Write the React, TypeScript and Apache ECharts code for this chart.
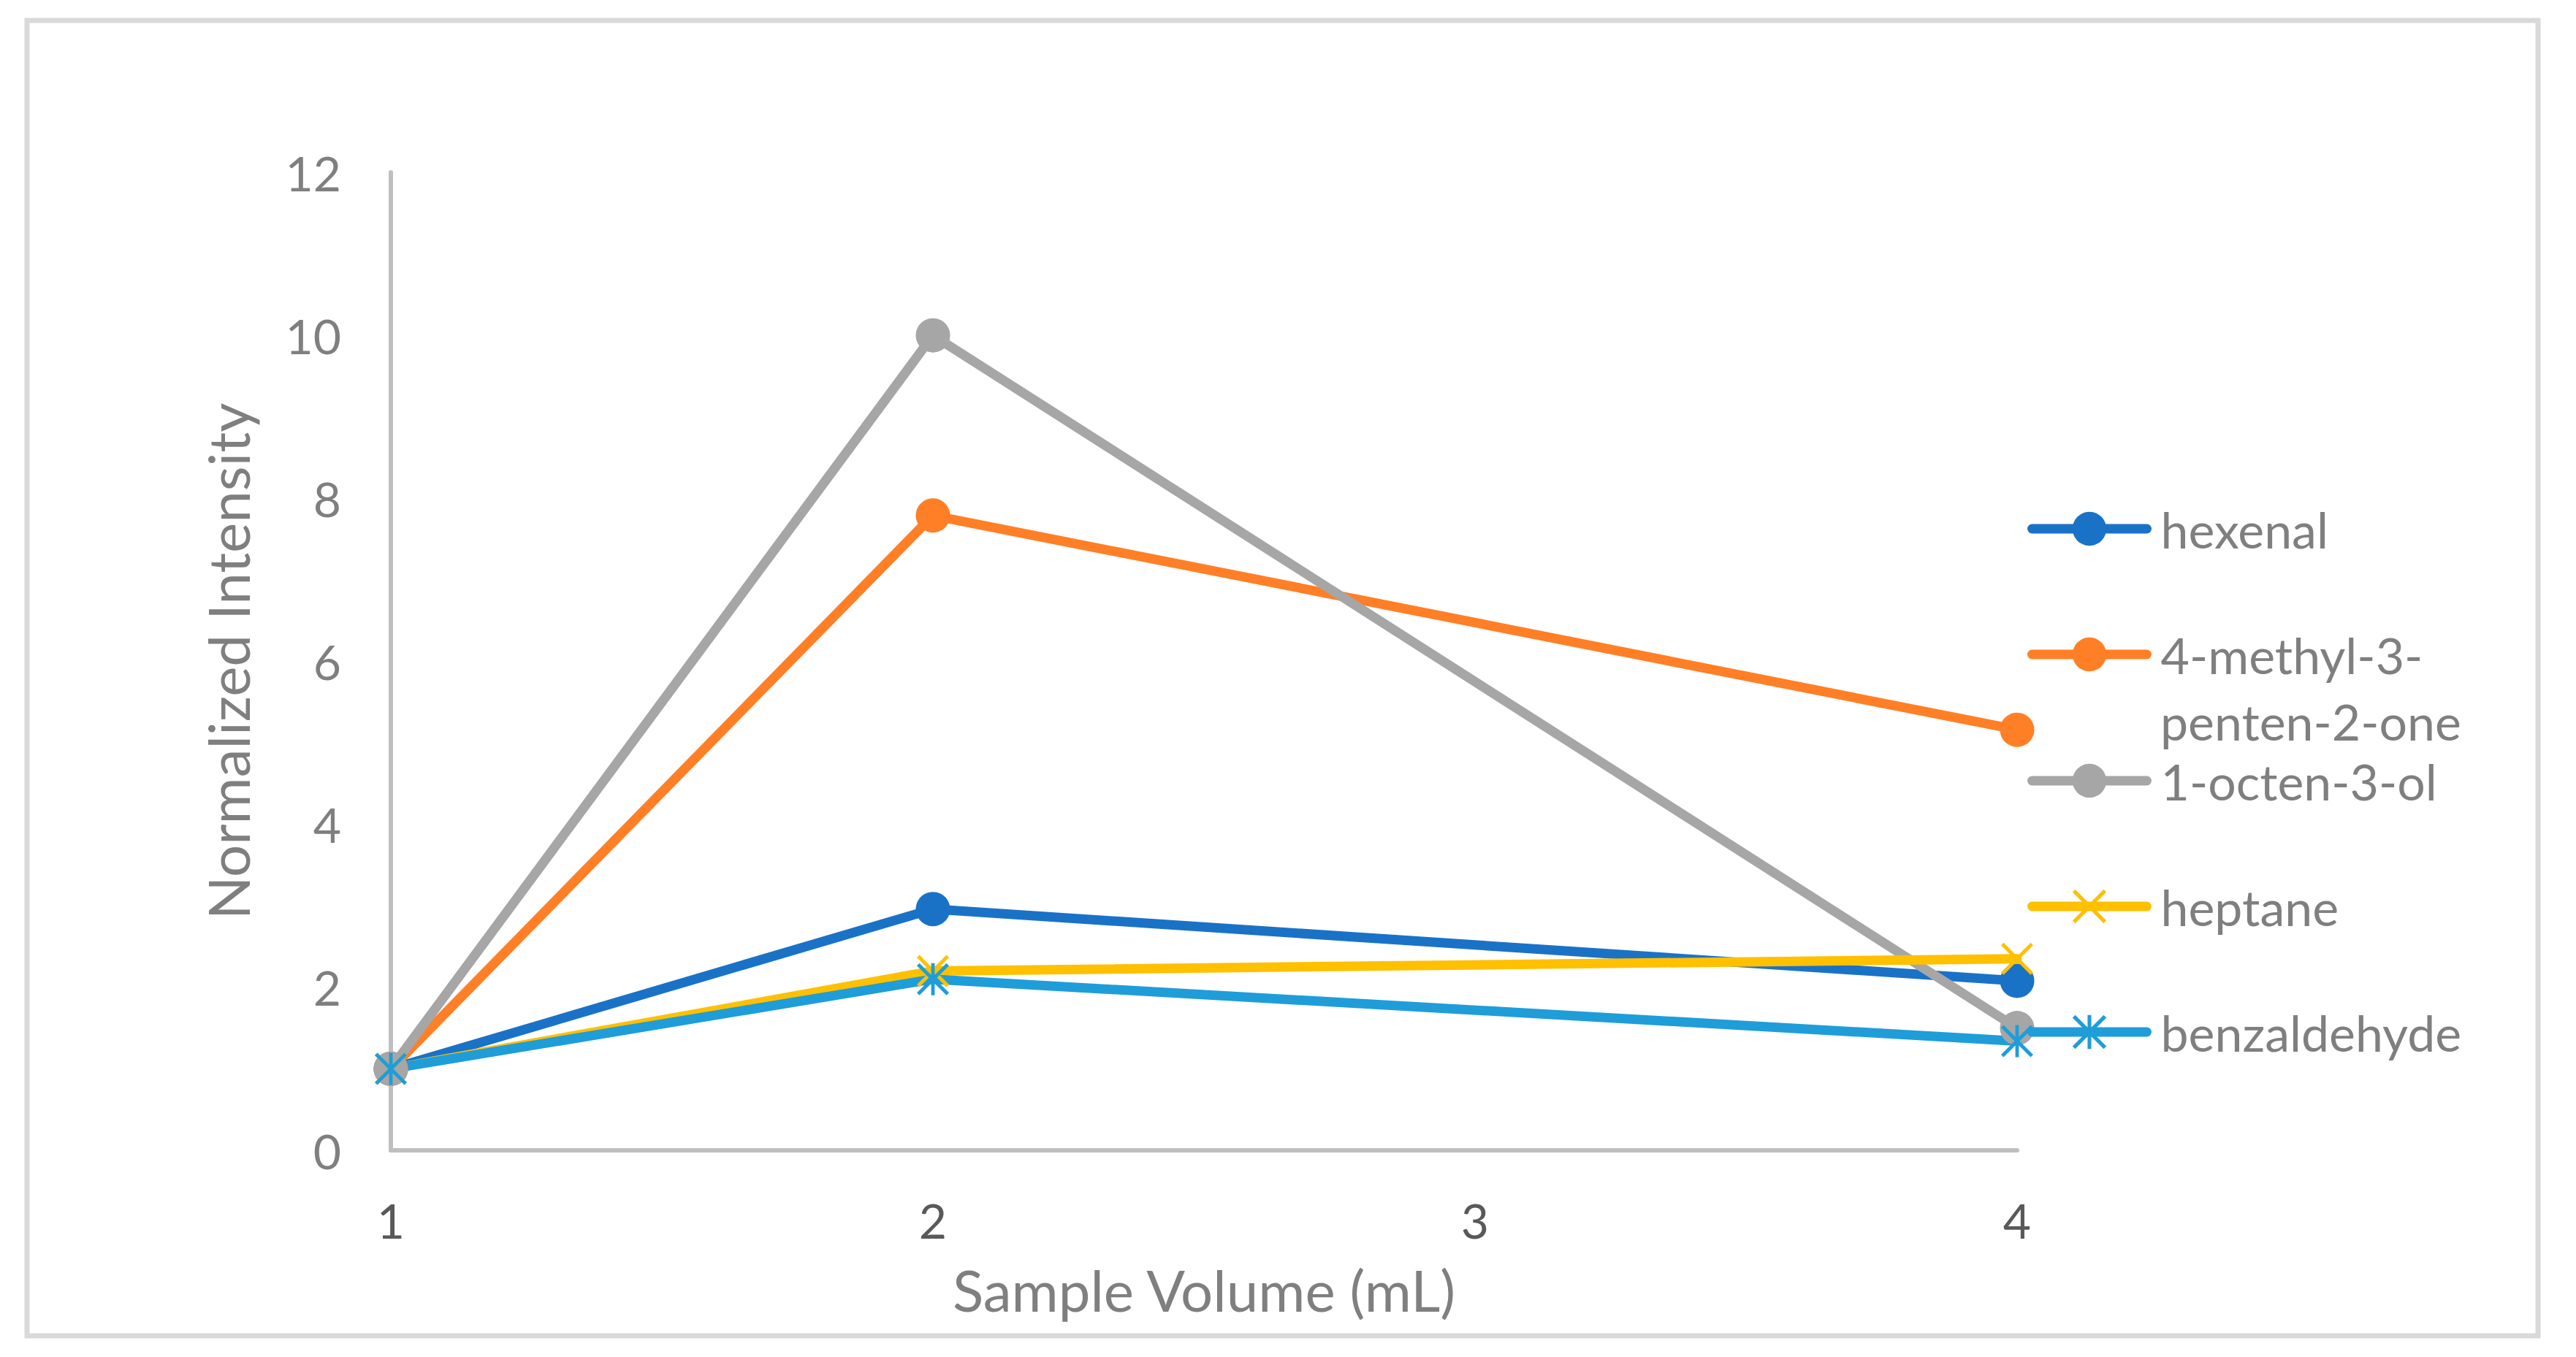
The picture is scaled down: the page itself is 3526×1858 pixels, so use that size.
import React, { useEffect, useRef } from "react";
import * as echarts from "echarts";

const sampleVolumes = [1, 2, 4];
const seriesNames = ["hexenal", "4-methyl-3-penten-2-one", "1-octen-3-ol", "heptane", "benzaldehyde"];
const hexenal = [1.0, 2.96, 2.08];
const methylPentenone = [1.0, 7.79, 5.16];
const octenol = [1.0, 10.0, 1.5];
const heptane = [1.0, 2.2, 2.35];
const benzaldehyde = [1.0, 2.1, 1.34];
const yTicks = { min: 0, max: 12, interval: 2 };
const xTicks = { min: 1, max: 4, interval: 1 };

const COLORS = ["#1A72C7", "#FF7F27", "#A6A6A6", "#FFC000", "#1F9DD9"];
const X_PATH = "path://M0,8 L8,0 L100,92 L92,100 Z M100,8 L8,100 L0,92 L92,0 Z";
const STAR_PATH =
  "path://M0,8 L8,0 L100,92 L92,100 Z M100,8 L8,100 L0,92 L92,0 Z M44.5,0 L55.5,0 L55.5,100 L44.5,100 Z";
const FONT = "Lato";

export default function App() {
  const ref = useRef<HTMLDivElement>(null);
  useEffect(() => {
    if (!ref.current) return;
    const chart = echarts.init(ref.current, null, { renderer: "svg" });
    const valueSets = [hexenal, methylPentenone, octenol, heptane, benzaldehyde];
    const symbols = ["circle", "circle", "circle", X_PATH, STAR_PATH];
    const sizes = [47, 47, 47, 44, 44];
    const series = seriesNames.map((name, i) => ({
      name,
      type: "line",
      data: sampleVolumes.map((x, j) => [x, valueSets[i][j]]),
      symbol: symbols[i],
      symbolSize: sizes[i],
      showAllSymbol: true,
      color: COLORS[i],
      itemStyle: { color: COLORS[i] },
      lineStyle: { width: 13, color: COLORS[i], cap: "round", join: "round" },
      emphasis: { disabled: true },
    }));

    const legendCenters = [725, 897, 1070, 1242, 1414];
    const legendLabels = ["hexenal", "4-methyl-3-", "1-octen-3-ol", "heptane", "benzaldehyde"];
    const itemH = 58;
    const shift = -6;
    const legendLeft = 2775;
    const legends = seriesNames.map((name, i) => ({
      data: [name],
      left: legendLeft,
      top: legendCenters[i] - itemH / 2 + shift,
      orient: "vertical",
      padding: 0,
      itemWidth: 157,
      itemHeight: itemH,
      selectedMode: false,
      formatter: () => legendLabels[i],
      lineStyle: { width: 13, color: COLORS[i], cap: "round" },
      itemStyle: { color: COLORS[i] },
      textStyle: {
        fontFamily: FONT,
        fontSize: 68,
        color: "#7F7F7F",
        lineHeight: itemH,
        padding: [0, 0, 0, 14],
      },
    }));

    chart.setOption({
      animation: false,
      backgroundColor: "#ffffff",
      textStyle: { fontFamily: FONT },
      grid: { left: 535, top: 236, right: 3526 - 2761, bottom: 1858 - 1575, containLabel: false },
      xAxis: {
        type: "value",
        min: xTicks.min,
        max: xTicks.max,
        interval: xTicks.interval,
        name: "Sample Volume (mL)",
        nameLocation: "middle",
        nameGap: 152,
        nameTextStyle: { fontFamily: FONT, fontSize: 78, color: "#7F7F7F" },
        axisLine: { show: true, lineStyle: { color: "#BFBFBF", width: 6 } },
        axisTick: { show: false },
        splitLine: { show: false },
        axisLabel: { fontFamily: FONT, fontSize: 66, color: "#595959", margin: 62 },
      },
      yAxis: {
        type: "value",
        min: yTicks.min,
        max: yTicks.max,
        interval: yTicks.interval,
        name: "Normalized Intensity",
        nameLocation: "middle",
        nameRotate: 90,
        nameGap: 184,
        nameTextStyle: { fontFamily: FONT, fontSize: 78, color: "#7F7F7F" },
        axisLine: { show: true, lineStyle: { color: "#BFBFBF", width: 6 } },
        axisTick: { show: false },
        splitLine: { show: false },
        axisLabel: { fontFamily: FONT, fontSize: 66, color: "#7F7F7F", margin: 68 },
      },
      legend: legends,
      graphic: [
        {
          type: "rect",
          shape: { x: 37, y: 28, width: 3474 - 37, height: 1829 - 28 },
          style: { fill: "none", stroke: "#D9D9D9", lineWidth: 7 },
          silent: true,
          z: -10,
        },
        {
          type: "text",
          left: 2781 + 157 + 5 + 14,
          top: 897 + 91 - itemH / 2 + shift,
          style: {
            text: "penten-2-one",
            fontFamily: FONT,
            fontSize: 68,
            fill: "#7F7F7F",
            lineHeight: itemH,
          },
          silent: true,
        },
      ],
      series,
    });
    return () => chart.dispose();
  }, []);
  return (
    <div
      ref={ref}
      style={{ position: "fixed", left: 0, top: 0, width: 3526, height: 1858, background: "#fff" }}
    />
  );
}
